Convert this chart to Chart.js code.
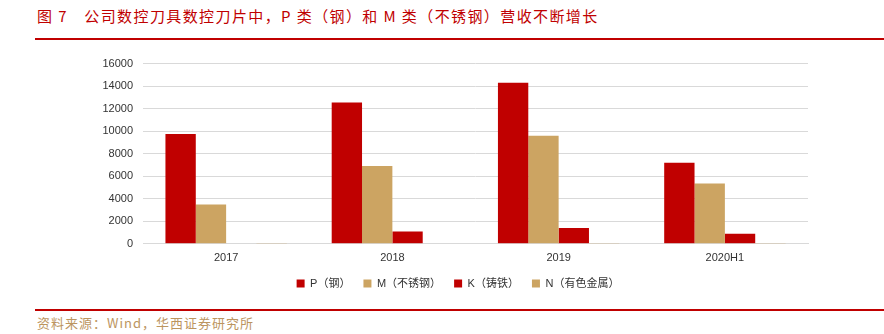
<!DOCTYPE html>
<html>
<head>
<meta charset="utf-8">
<script src="https://cdn.jsdelivr.net/npm/chart.js@4"></script>
<style>
  body { margin: 0; width: 884px; height: 334px; background: #fff; position: relative; overflow: hidden; }
  #title { position: absolute; left: 37px; top: 5px; font: 15px "Noto Sans CJK SC", sans-serif; color: #C00000; letter-spacing: 1.4px; white-space: nowrap; }
  #topLine { position: absolute; left: 35px; right: 0; top: 38px; height: 2px; background: #C00000; }
  #botLine { position: absolute; left: 35px; right: 0; top: 309px; height: 2px; background: #C00000; }
  #source { position: absolute; left: 37px; top: 313px; font: 13px "Noto Sans CJK SC", sans-serif; color: #BC955F; letter-spacing: 1px; white-space: nowrap; }
  #wrap { position: absolute; left: 0; top: 47px; width: 884px; height: 252px; }
</style>
</head>
<body>
<div id="title">图 7　公司数控刀具数控刀片中，P 类（钢）和 M 类（不锈钢）营收不断增长</div>
<div id="topLine"></div>
<div id="wrap"><canvas id="c"></canvas></div>
<div id="botLine"></div>
<div id="source">资料来源：Wind，华西证券研究所</div>
<script>
const categories = ['2017', '2018', '2019', '2020H1'];
const pSteel = [9750, 12550, 14300, 7200];
const mStainless = [3500, 6900, 9600, 5350];
const kIron = [0, 1100, 1400, 900];
const nNonferrous = [30, 40, 60, 30];
const yTicks = [0, 2000, 4000, 6000, 8000, 10000, 12000, 14000, 16000];

const red = '#C00000';
const tan = '#CCA462';

// nudge the legend a bit right so it sits where the original one does
const legendShift = {
  id: 'legendShift',
  afterLayout(chart) {
    chart.legend.left += 9;
    chart.legend.right += 9;
  }
};

new Chart(document.getElementById('c'), {
  type: 'bar',
  data: {
    labels: categories,
    datasets: [
      { label: 'P（钢）', data: pSteel, backgroundColor: red },
      { label: 'M（不锈钢）', data: mStainless, backgroundColor: tan },
      { label: 'K（铸铁）', data: kIron, backgroundColor: red },
      { label: 'N（有色金属）', data: nNonferrous, backgroundColor: tan }
    ]
  },
  options: {
    responsive: true,
    maintainAspectRatio: false,
    animation: false,
    datasets: { bar: { barPercentage: 1, categoryPercentage: 0.73 } },
    layout: { padding: { left: 90, right: 76, top: 15, bottom: 0 } },
    plugins: {
      legend: {
        position: 'bottom',
        labels: {
          boxWidth: 8, boxHeight: 8, padding: 13,
          color: '#333',
          font: { family: '"Liberation Sans", "Noto Sans CJK SC", sans-serif', size: 11 }
        }
      },
      tooltip: { enabled: false }
    },
    scales: {
      x: {
        grid: { display: false },
        border: { color: '#d9d9d9' },
        ticks: { color: '#333', font: { family: '"Liberation Sans", sans-serif', size: 11 }, padding: 0 }
      },
      y: {
        min: 0, max: 16000,
        afterBuildTicks: s => { s.ticks = yTicks.map(v => ({ value: v })); },
        afterFit: s => { s.width = 53; },
        grid: { color: '#d9d9d9', drawTicks: false },
        border: { display: false },
        ticks: {
          color: '#333', padding: 10,
          font: { family: '"Liberation Sans", sans-serif', size: 11 },
          callback: v => String(v)
        }
      }
    }
  },
  plugins: [legendShift]
});
</script>
</body>
</html>
